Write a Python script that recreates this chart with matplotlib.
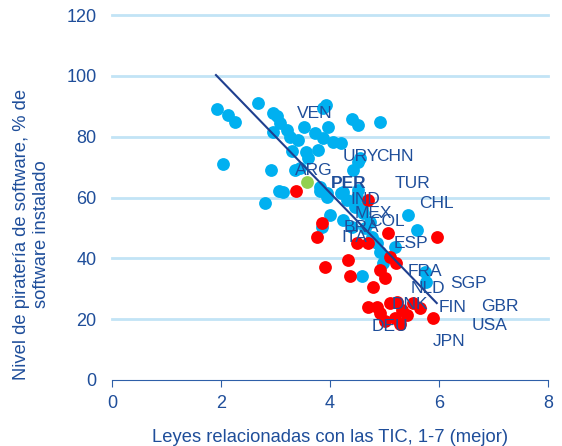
import matplotlib
matplotlib.use("Agg")
import matplotlib.pyplot as plt

# blue: other countries
blue_x = [1.92, 2.13, 2.26, 2.68, 2.95, 3.03, 3.08, 2.96, 3.21, 3.27, 3.42, 3.52, 3.72, 3.88, 3.93,
          3.97, 3.88, 4.06, 4.20, 3.30, 3.57, 3.60, 3.79, 4.40, 4.51, 4.92, 2.04, 2.92, 3.36,
          3.06, 2.81, 3.82, 3.94, 4.24, 4.49, 4.58, 4.42, 4.55, 3.45, 3.82, 3.94, 4.21, 4.31,
          4.51, 4.46, 4.61, 4.00, 3.85, 4.24, 4.40, 4.64, 4.73, 5.44, 5.59, 4.86, 4.92, 5.19,
          4.98, 4.58, 5.74, 5.77, 4.77, 3.14, 4.51]
blue_y = [89.0, 87.1, 84.9, 91.2, 87.9, 86.8, 84.4, 81.6, 82.2, 79.8, 79.1, 83.3, 81.1, 89.3, 90.3,
          83.3, 79.5, 78.3, 78.0, 75.4, 75.0, 72.9, 75.6, 86.0, 83.8, 84.9, 71.0, 69.0, 69.0,
          62.2, 58.1, 62.2, 60.3, 61.9, 60.3, 56.5, 69.0, 72.9, 69.6, 63.5, 61.4, 61.4, 59.2,
          62.5, 57.0, 54.8, 54.2, 50.4, 52.6, 50.4, 49.9, 52.0, 54.2, 49.3, 44.9, 42.2, 43.8,
          38.4, 34.2, 35.6, 32.3, 47.0, 61.9, 71.7]

# red: OECD countries
red_x = [3.37, 4.70, 3.85, 3.76, 4.49, 4.70, 5.07, 5.96, 5.10, 5.22, 4.92, 5.01, 4.79, 3.91,
         4.34, 4.37, 4.70, 4.86, 5.10, 5.23, 5.52, 5.65, 5.32, 4.92, 5.19, 5.41, 5.89, 5.02, 5.28]
red_y = [62.2, 59.2, 51.7, 47.1, 44.9, 44.9, 48.2, 47.1, 40.5, 38.4, 36.2, 33.4, 30.7, 37.2,
         39.4, 34.2, 24.0, 24.0, 25.3, 25.6, 25.3, 23.7, 23.0, 22.0, 20.4, 21.4, 20.4, 19.5, 18.5]

# green: Peru
green_x = [3.58]
green_y = [65.0]

trend_x = [1.91, 5.96]
trend_y = [100.3, 25.3]

labels = ["VEN", "URY", "CHN", "ARG", "PER", "TUR", "IND", "CHL", "MEX", "COL", "BRA", "ITA",
          "ESP", "FRA", "SGP", "NLD", "DNK", "FIN", "GBR", "USA", "DEU", "JPN"]
label_x = [3.72, 4.57, 5.19, 3.71, 4.35, 5.52, 4.65, 5.96, 4.79, 5.04, 4.58, 4.44,
           5.48, 5.74, 6.55, 5.79, 5.46, 6.25, 7.12, 6.93, 5.10, 6.18]
label_y = [87.6, 73.4, 73.6, 68.8, 64.7, 64.6, 59.4, 57.9, 54.6, 52.0, 50.2, 46.9,
           44.9, 35.6, 31.8, 30.1, 24.7, 23.9, 24.3, 17.8, 17.5, 12.6]

txt = '#1f4e9a'
plt.rcParams['font.family'] = ['Liberation Sans', 'DejaVu Sans']

fig = plt.figure(figsize=(5.62, 4.46), dpi=100)
ax = fig.add_axes([0.199, 0.148, 0.776, 0.818])

ax.scatter(blue_x, blue_y, s=85, color='#00b0f0', linewidths=0, zorder=3)
ax.scatter(red_x, red_y, s=85, color='#ff0000', linewidths=0, zorder=4)
ax.scatter(green_x, green_y, s=85, color='#92d050', linewidths=0, zorder=4)
ax.plot(trend_x, trend_y, color='#1f3f8f', lw=1.5, zorder=5)

for lab, lx, ly in zip(labels, label_x, label_y):
    ax.text(lx, ly, lab, ha='center', va='center', fontsize=12.5, color=txt, zorder=6,
            fontweight='bold' if lab == 'PER' else 'normal')

ax.set_xlim(0, 8)
ax.set_ylim(0, 120)
ax.set_xticks([0, 2, 4, 6, 8])
ax.set_yticks([0, 20, 40, 60, 80, 100, 120])
for v in [20, 40, 60, 80, 100, 120]:
    ax.axhline(v, color='#c2e4f6', lw=2, zorder=1, clip_on=False)

for s in ['top', 'right', 'left']:
    ax.spines[s].set_visible(False)
ax.spines['bottom'].set_color('#2e5fa8')
ax.tick_params(axis='x', colors='#2e5fa8', labelcolor=txt, labelsize=13, length=5, pad=6)
ax.tick_params(axis='y', length=0, labelcolor=txt, labelsize=13, pad=11)

ax.set_xlabel('Leyes relacionadas con las TIC, 1-7 (mejor)', fontsize=13.2, color=txt, labelpad=12)
ax.set_ylabel('Nivel de piratería de software, % de\nsoftware instalado', fontsize=13.2,
              color=txt, linespacing=1.2)
ax.yaxis.set_label_coords(-0.142, 0.40)

fig.savefig('out.png', dpi=100)
